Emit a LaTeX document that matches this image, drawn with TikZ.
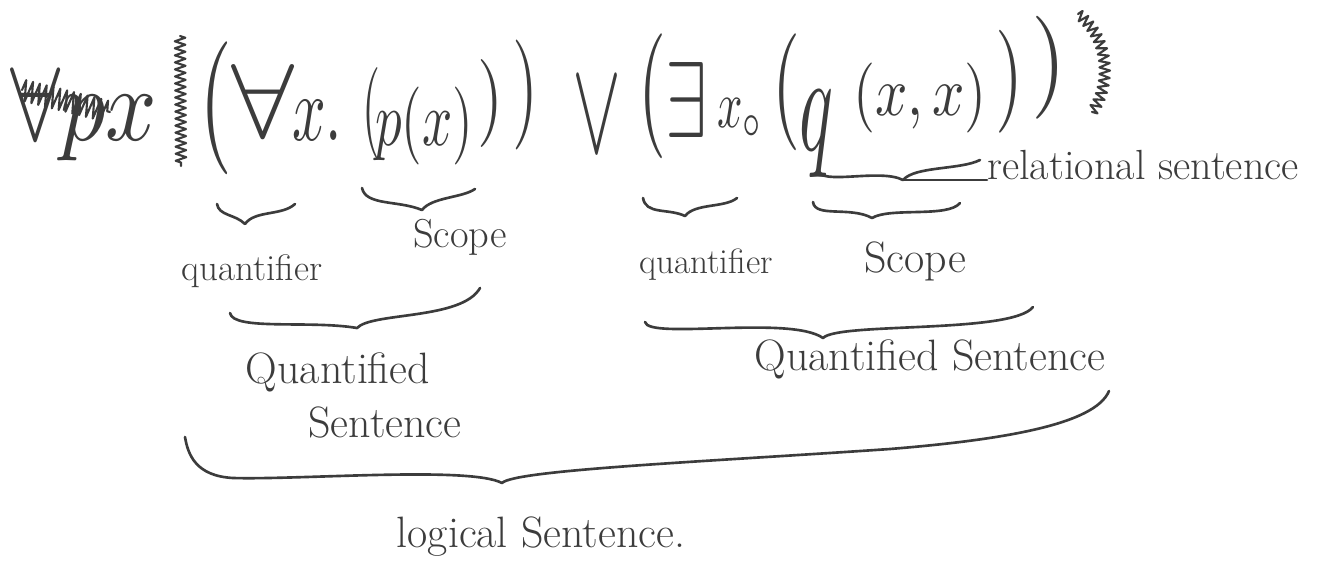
\documentclass[tikz,border=0pt]{standalone}
\usepackage{graphicx}
\usepackage{amsmath,amssymb}
\usetikzlibrary{decorations.pathmorphing,positioning}
\definecolor{ink}{HTML}{3C3C3C}
\newcommand{\penfit}[3]{\resizebox*{\dimexpr0.02cm*#1\relax}{\dimexpr0.02cm*#2\relax}{#3}}
\tikzset{
  pen/.style={draw=ink,line width=1.5pt,line cap=round,line join=round},
  scribble/.style={pen,line width=1.2pt,decorate,decoration={zigzag,segment length=4pt,amplitude=3pt}},
  tok/.style={inner sep=0pt,text=ink},
  lbl/.style={inner sep=0pt,text=ink,anchor=base,font=\fontsize{25}{30}\selectfont},
}

\begin{document}
\begin{tikzpicture}[x=0.02cm,y=-0.02cm]
  \fill[white] (0,0) rectangle (1331,584);
  \useasboundingbox (0,0) rectangle (1331,584);

  % the sentence, token by token
  \node[tok] (crossed) at (84,114) {\penfit{147}{93}{$\forall px$}};
  \node[tok] (lpA) at (216,108) {\penfit{33}{133}{$($}};
  \node[tok] (forall) at (263,101) {\penfit{63}{73}{$\forall$}};
  \node[tok] (xA) at (317,120) {\penfit{50}{40}{$x.$}};
  \node[tok] (lpB) at (371,114) {\penfit{18}{92}{$($}};
  \node[tok] (px) at (424,126) {\penfit{98}{78}{$p(x)$}};
  \node[tok] (rpB) at (490,104) {\penfit{26}{88}{$)$}};
  \node[tok] (rpA) at (525,95) {\penfit{26}{110}{$)$}};
  \node[tok] (vee) at (597,115) {\penfit{49}{74}{$\vee$}};
  \node[tok] (lpC) at (652,96) {\penfit{28}{125}{$($}};
  \node[tok] (exists) at (686,100) {\penfit{42}{75}{$\exists$}};
  \node[tok] (xB) at (740,118) {\penfit{46}{39}{$x_\circ$}};
  \node[tok] (lpD) at (786,92) {\penfit{28}{117}{$($}};
  \node[tok] (q) at (816,134) {\penfit{34}{87}{$q$}};
  \node[tok] (xx) at (920,98) {\penfit{134}{70}{$(x,x)$}};
  \node[tok] (rpD) at (1009,82) {\penfit{28}{103}{$)$}};
  \node[tok] (rpC) at (1049,68) {\penfit{35}{103}{$)$}};

  % scribbles
  \draw[scribble] (180,36) -- (181,166);
  \draw[scribble] (1078,14) .. controls (1112,40) and (1110,88) .. (1092,112);
  \draw[scribble,decoration={amplitude=6pt}] (22,90) -- (110,112);

  % small braces
  \draw[pen] (217,204) .. controls (219,216) and (235,214) .. (245,224) .. controls (255,210) and (282,216) .. (295,204);
  \draw[pen] (362,188) .. controls (366,206) and (398,200) .. (422,210) .. controls (432,197) and (462,198) .. (475,189);
  \draw[pen] (643,198) .. controls (646,215) and (668,208) .. (685,216) .. controls (695,203) and (725,208) .. (737,198);
  \draw[pen] (813,202) .. controls (815,218) and (850,206) .. (872,218) .. controls (890,207) and (948,218) .. (960,203);
  \draw[pen] (818,170) .. controls (820,186) and (880,168) .. (903,180) .. controls (915,166) and (960,170) .. (980,160);
  \coordinate (reltip) at (903,180);

  % labels
  \node[lbl,font=\fontsize{21}{25}\selectfont] (quantA) at (252,280) {quantifier};
  \node[lbl,font=\fontsize{23}{28}\selectfont] (scopeA) at (460,247) {Scope};
  \node[lbl,font=\fontsize{20}{24}\selectfont] (quantB) at (706,273) {quantifier};
  \node[lbl] (scopeB) at (915,272) {Scope};
  \node[lbl,anchor=base west,font=\fontsize{24}{29}\selectfont] (relsent) at (987,180) {relational sentence};
  \draw[pen] (reltip) -- (reltip -| relsent.west);

  % large braces
  \draw[pen] (230,313) .. controls (233,331) and (310,320) .. (357,328) .. controls (372,312) and (462,320) .. (480,288);
  \draw[pen] (645,322) .. controls (648,340) and (790,315) .. (823,338) .. controls (838,322) and (1012,334) .. (1033,307);
  \draw[pen] (185,437) .. controls (188,455) and (196,476) .. (233,478) .. controls (300,480) and (470,466) .. (502,483)
    .. controls (515,470) and (700,462) .. (890,449) .. controls (1000,440) and (1095,425) .. (1109,391);

  \node[lbl] (qsA) at (338,383) {Quantified};
  \node[lbl] (qsA2) at (385,437) {Sentence};
  \node[lbl] (qsB) at (930,370) {Quantified Sentence};
  \node[lbl] (logsent) at (541,547) {logical Sentence.};
\end{tikzpicture}
\end{document}
